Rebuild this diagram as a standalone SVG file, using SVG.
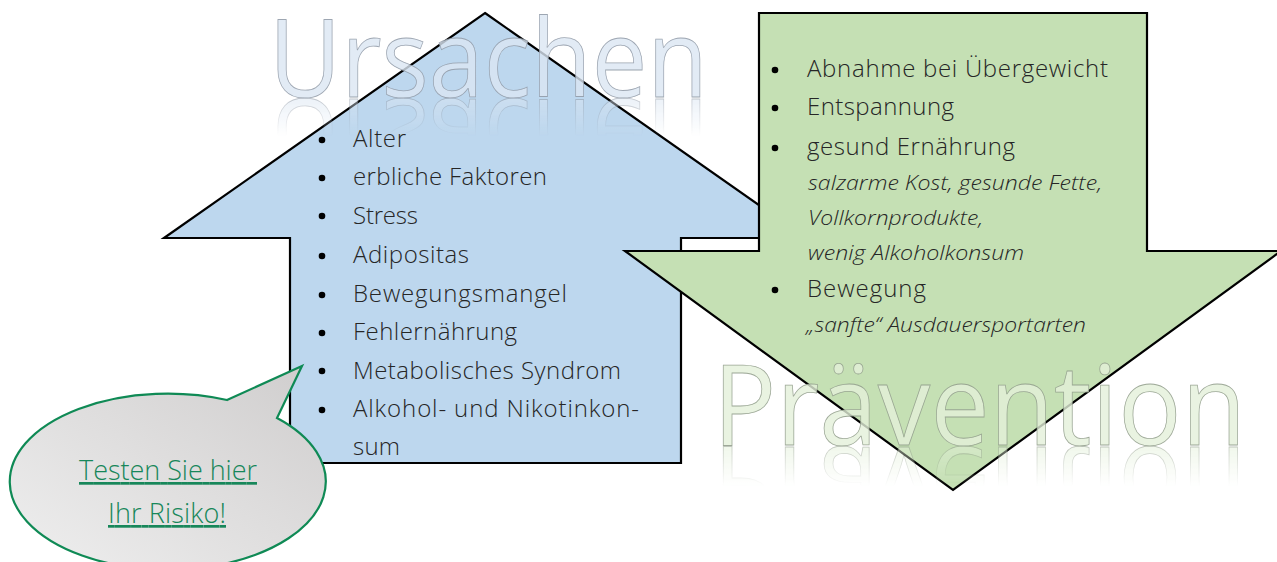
<svg xmlns="http://www.w3.org/2000/svg" xmlns:xlink="http://www.w3.org/1999/xlink" width="1277" height="562" viewBox="0 0 1277 562">
<style>
.arrow{stroke:#000;stroke-width:2.2;stroke-linejoin:miter}
.item{font-family:"Open Sans","Liberation Sans",sans-serif;font-weight:300;font-size:24px;fill:#262626}
.sub{font-family:"Open Sans","Liberation Sans",sans-serif;font-weight:300;font-style:italic;font-size:21px;fill:#262626}
.head{font-family:"Open Sans","Liberation Sans",sans-serif;font-weight:400;stroke-width:0.8}
.hu{fill:#dbe6f3;fill-opacity:0.8;stroke:#8e98a4;stroke-opacity:0.85}
.hp{fill:#e3f0da;fill-opacity:0.8;stroke:#8e9a88;stroke-opacity:0.85}
.link{font-family:"Open Sans","Liberation Sans",sans-serif;font-weight:300;font-size:27px;fill:#17875a;text-decoration:underline}
</style>
<defs>
<linearGradient id="gU" gradientUnits="userSpaceOnUse" x1="0" y1="98" x2="0" y2="136">
<stop offset="0" stop-color="#fff" stop-opacity="0.65"/>
<stop offset="1" stop-color="#fff" stop-opacity="0"/>
</linearGradient>
<linearGradient id="gP" gradientUnits="userSpaceOnUse" x1="0" y1="446" x2="0" y2="486">
<stop offset="0" stop-color="#fff" stop-opacity="0.65"/>
<stop offset="1" stop-color="#fff" stop-opacity="0"/>
</linearGradient>
<mask id="mU" maskUnits="userSpaceOnUse" x="0" y="0" width="1277" height="562">
<rect x="0" y="98" width="1277" height="40" fill="url(#gU)"/>
</mask>
<mask id="mP" maskUnits="userSpaceOnUse" x="0" y="0" width="1277" height="562">
<rect x="0" y="446" width="1277" height="42" fill="url(#gP)"/>
</mask>
<linearGradient id="bubbleFill" x1="0" y1="1" x2="1" y2="0">
<stop offset="0" stop-color="#efefef"/>
<stop offset="1" stop-color="#cfcdcd"/>
</linearGradient>
<text id="tU" class="head hu" x="269" y="97" font-size="108" textLength="439" lengthAdjust="spacingAndGlyphs">Ursachen</text>
<text id="tP" class="head hp" x="713" y="445" font-size="112" textLength="533" lengthAdjust="spacingAndGlyphs">Prävention</text>
</defs>

<g id="ursachen-arrow">
<polygon class="arrow" fill="#bdd7ee" points="485,13 806,238 681,238 681,463 290,463 290,238 164,238"/>
<circle cx="322" cy="140" r="3.3" fill="#000"/><text class="item" x="353" y="147" textLength="53">Alter</text>
<circle cx="322" cy="178" r="3.3" fill="#000"/><text class="item" x="353" y="185" textLength="194">erbliche Faktoren</text>
<circle cx="322" cy="216" r="3.3" fill="#000"/><text class="item" x="353" y="224" textLength="65">Stress</text>
<circle cx="322" cy="256" r="3.3" fill="#000"/><text class="item" x="353" y="263" textLength="116">Adipositas</text>
<circle cx="322" cy="295" r="3.3" fill="#000"/><text class="item" x="353" y="302" textLength="214">Bewegungsmangel</text>
<circle cx="322" cy="333" r="3.3" fill="#000"/><text class="item" x="353" y="340" textLength="164">Fehlernährung</text>
<circle cx="322" cy="371" r="3.3" fill="#000"/><text class="item" x="353" y="379" textLength="268">Metabolisches Syndrom</text>
<circle cx="322" cy="410" r="3.3" fill="#000"/><text class="item" x="353" y="417" textLength="286">Alkohol- und Nikotinkon-</text>
<text class="item" x="353" y="455" textLength="47">sum</text>
</g>

<g id="praevention-arrow">
<polygon class="arrow" fill="#c5e0b4" points="759,13 1147,13 1147,251 1281,251 953,490 625,251 759,251"/>
<circle cx="775" cy="70" r="3.3" fill="#000"/><text class="item" x="807" y="77" textLength="301">Abnahme bei Übergewicht</text>
<circle cx="775" cy="108" r="3.3" fill="#000"/><text class="item" x="807" y="115" textLength="147">Entspannung</text>
<circle cx="775" cy="148" r="3.3" fill="#000"/><text class="item" x="807" y="155" textLength="208">gesund Ernährung</text>
<text class="sub" x="808" y="190" textLength="294" lengthAdjust="spacingAndGlyphs">salzarme Kost, gesunde Fette,</text>
<text class="sub" x="808" y="225" textLength="175" lengthAdjust="spacingAndGlyphs">Vollkornprodukte,</text>
<text class="sub" x="808" y="260" textLength="216" lengthAdjust="spacingAndGlyphs">wenig Alkoholkonsum</text>
<circle cx="775" cy="290" r="3.3" fill="#000"/><text class="item" x="807" y="297" textLength="119">Bewegung</text>
<text class="sub" x="806" y="332" textLength="280" lengthAdjust="spacingAndGlyphs">„sanfte“ Ausdauersportarten</text>
</g>

<g id="heading-ursachen">
<use xlink:href="#tU" href="#tU"/>
<g mask="url(#mU)"><use xlink:href="#tU" href="#tU" transform="translate(0,196) scale(1,-1)"/></g>
</g>

<g id="heading-praevention">
<use xlink:href="#tP" href="#tP"/>
<g mask="url(#mP)"><use xlink:href="#tP" href="#tP" transform="translate(0,892) scale(1,-1)"/></g>
</g>

<g id="risk-callout">
<path d="M227,400 L302,366 L277,418 A158,88 0 1 1 227,400 Z" fill="url(#bubbleFill)" stroke="#0f8a55" stroke-width="2.2" stroke-linejoin="miter"/>
<text class="link" x="79" y="480" textLength="178">Testen Sie hier</text>
<text class="link" x="108" y="523" textLength="118">Ihr Risiko!</text>
</g>

<g id="connectors"></g>
</svg>
